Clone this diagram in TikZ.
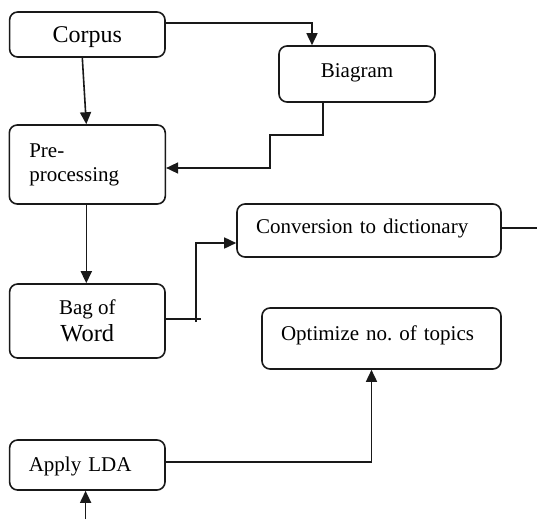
\documentclass[tikz,border=0pt]{standalone}
\usepackage{fontspec}
\setmainfont{Liberation Serif}
\usetikzlibrary{arrows.meta}
\begin{document}
\begin{tikzpicture}[x=1pt,y=-1pt,
  box/.style={draw=black!90, line width=1.6pt, rounded corners=8pt, inner sep=0pt,
    font=\fontsize{21}{24}\selectfont, align=center},
  leftbox/.style={box, align=left, inner xsep=19pt},
  conn/.style={draw=black!90, line width=1.6pt},
  arr/.style={conn, -{Triangle[length=12pt,width=11pt]}}]
\useasboundingbox (0,0) rectangle (537,519);
% boxes
\node[box, minimum width=155.4pt, minimum height=45pt, font=\fontsize{24}{27}\selectfont,
  text height=17pt, text depth=0pt] (corpus) at (87.3,34.5) {Corpus};
\node[box, minimum width=156pt, minimum height=56pt, text height=15pt, text depth=8.4pt]
  (biagram) at (357,74) {Biagram};
\node[leftbox, minimum width=155.4pt, minimum height=79pt, text width=116pt, inner xsep=20pt]
  (pre) at (87.3,164.5) {Pre-\\processing};
\node[box, minimum width=155.4pt, minimum height=74pt, font=\fontsize{21}{27}\selectfont]
  (bag) at (87.3,321) {Bag of\\{\fontsize{24.5}{27}\selectfont Word}};
\node[leftbox, minimum width=264pt, minimum height=53pt, text width=226pt,
  text height=15pt, text depth=10pt] (conv) at (369,230.5) {Conversion to dictionary};
\node[leftbox, minimum width=239pt, minimum height=61pt, text width=201pt,
  text height=15pt, text depth=12pt] (opt) at (381.5,338.5) {Optimize no.\ of topics};
\node[leftbox, minimum width=155.4pt, minimum height=50pt, text width=117pt,
  text height=15pt, text depth=3pt] (apply) at (87.3,465) {Apply LDA};
% helper coordinates
\coordinate (b1) at (270,135);
\coordinate (bw) at (201,319);
\coordinate (bv) at (195.7,322);
\coordinate (cout) at (537,228);
\coordinate (ain) at (85.6,519);
% connectors
\draw[arr] ([xshift=-5pt]corpus.south) -- ([xshift=-1pt]pre.north);
\draw[arr] ([yshift=11.5pt]corpus.east) -| ([xshift=-45pt]biagram.north);
\draw[arr] ([xshift=-34pt]biagram.south) |- (b1) |- ([yshift=-3.5pt]pre.east);
\draw[arr] ([xshift=-1pt]pre.south) -- ([xshift=-1pt]bag.north);
\draw[conn] ([yshift=2pt]bag.east) -- (bw);
\draw[arr] (bv) |- ([yshift=-12.5pt]conv.west);
\draw[conn] ([yshift=2.5pt]conv.east) -- (cout);
\draw[arr] ([yshift=3pt]apply.east) -| ([xshift=-10pt]opt.south);
\draw[arr] (ain) -- ([xshift=-1.7pt]apply.south);
\end{tikzpicture}
\end{document}
